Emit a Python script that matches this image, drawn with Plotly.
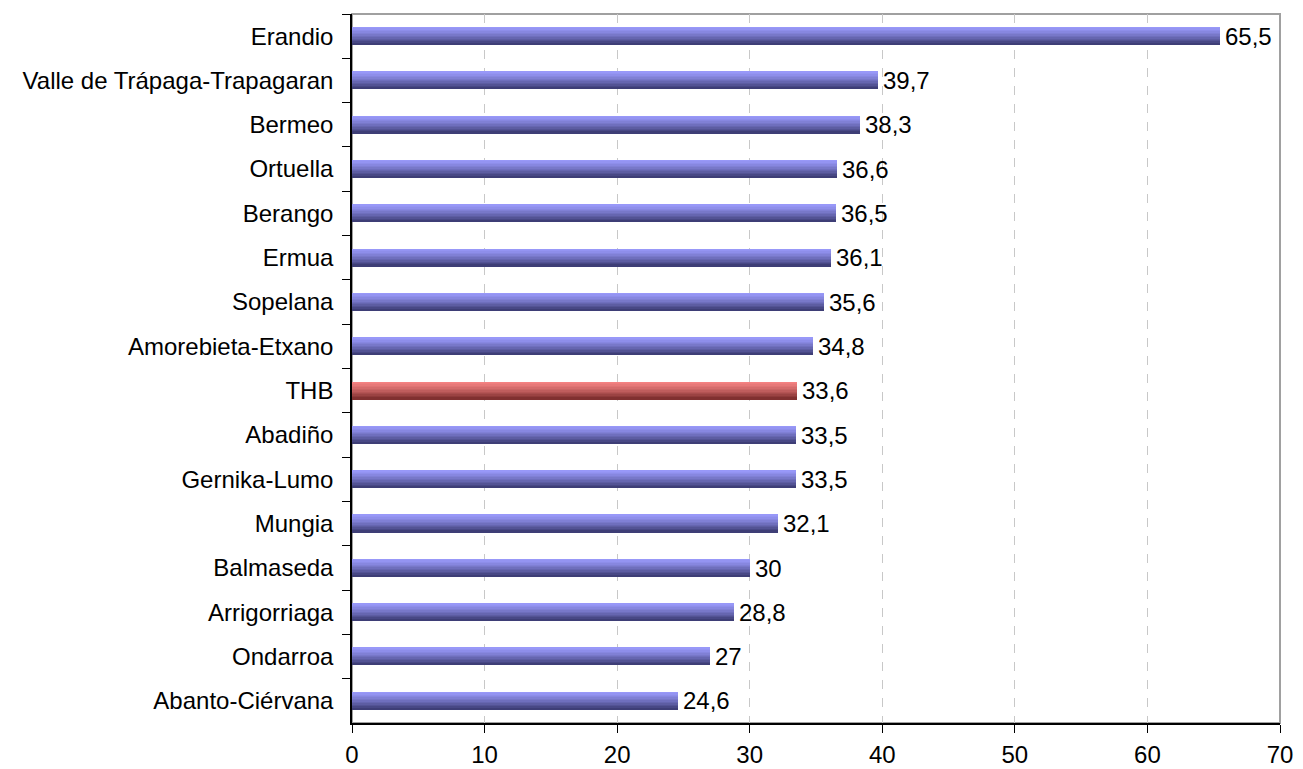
import plotly.graph_objects as go

# data
municipios = ["Erandio", "Valle de Trápaga-Trapagaran", "Bermeo", "Ortuella", "Berango",
              "Ermua", "Sopelana", "Amorebieta-Etxano", "THB", "Abadiño", "Gernika-Lumo",
              "Mungia", "Balmaseda", "Arrigorriaga", "Ondarroa", "Abanto-Ciérvana"]
valores = [65.5, 39.7, 38.3, 36.6, 36.5, 36.1, 35.6, 34.8, 33.6, 33.5, 33.5, 32.1, 30, 28.8, 27, 24.6]
destacado = "THB"

FONT = "Liberation Sans, Arial, sans-serif"
N = 12          # strips used to fake the vertical gradient of each bar
THICK = 0.39    # bar thickness (fraction of category)

def mix(a, b, t):
    return "rgb(%d,%d,%d)" % tuple(round(a[k] + (b[k] - a[k]) * t) for k in range(3))

BLUE = ((152, 152, 248), (62, 62, 118))
RED = ((244, 130, 130), (128, 48, 48))

fig = go.Figure()

w = THICK / N
for i in range(N):
    t = (i / (N - 1)) ** 1.3
    cols = [mix(*(RED if m == destacado else BLUE), t) for m in municipios]
    fig.add_trace(go.Bar(
        x=valores, y=municipios, orientation="h",
        width=w * 1.2, offset=-THICK / 2 + i * w,
        marker=dict(color=cols, line=dict(width=0)),
        hoverinfo="skip", showlegend=False,
    ))

# value labels: transparent bar over the whole thickness, text outside
etiquetas = ["\u200a" + f"{v:g}".replace(".", ",") for v in valores]
fig.add_trace(go.Bar(
    x=valores, y=municipios, orientation="h",
    width=THICK, offset=-THICK / 2,
    marker=dict(color="rgba(0,0,0,0)", line=dict(width=0)),
    text=etiquetas, textposition="outside", cliponaxis=False,
    constraintext="none",
    textfont=dict(family=FONT, size=24, color="black"),
    hoverinfo="skip", showlegend=False,
))

# the page body has an 8px margin, so the figure starts at (8, 8)
fig.update_layout(
    width=1295, height=761,
    margin=dict(l=344, r=23, t=6, b=46),
    paper_bgcolor="white", plot_bgcolor="white",
    barmode="overlay", bargap=0,
    font=dict(family=FONT, size=24, color="black"),
    shapes=[dict(type="rect", xref="paper", yref="paper", x0=0, x1=1, y0=0, y1=1,
                 line=dict(color="#a0a0a0", width=2), layer="below")],
    xaxis=dict(range=[0, 70], dtick=10, showgrid=True, gridcolor="#c8c8c8",
               griddash="dash", gridwidth=1, zeroline=False, automargin=False,
               showline=True, linecolor="black", linewidth=1.5,
               ticks="outside", ticklen=8, tickcolor="black",
               ticklabelstandoff=1),
    yaxis=dict(categoryorder="array", categoryarray=municipios, autorange="reversed",
               showgrid=False, showline=True, linecolor="black", linewidth=1.5,
               automargin=False,
               ticks="outside", ticklen=8, tickcolor="black", tickson="boundaries",
               ticklabelstandoff=12),
)

fig.write_html("out.html")
